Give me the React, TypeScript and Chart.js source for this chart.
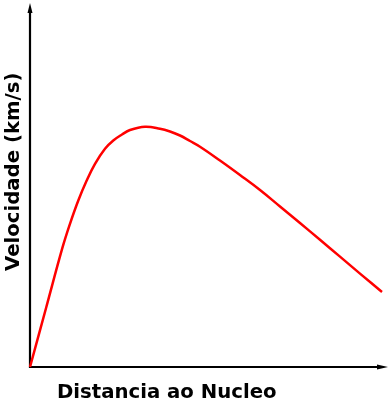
import React, { useEffect, useRef } from "react";
import { Chart, registerables } from "chart.js";

Chart.register(...registerables);

const distance = [0, 4.48, 9.05, 11.2, 13.53, 15.88, 18.21, 21.01, 23.33, 25.77, 28.01, 32.21, 36.41, 39.22, 42.02, 44.82, 47.62, 53.22, 58.82, 64.43, 70.03, 75.63, 81.23, 86.83, 92.44, 98.6];
const velocity = [0, 16.22, 32.82, 39.56, 46.0, 51.52, 56.13, 60.28, 62.57, 64.23, 65.47, 66.38, 65.83, 65.06, 63.95, 62.43, 60.86, 57.04, 53.04, 48.9, 44.34, 39.78, 35.14, 30.5, 25.8, 20.72];

const xTitle = "Distancia ao Nucleo";
const yTitle = "Velocidade (km/s)";

const axesPlugin = {
  id: "arrowAxes",
  beforeDatasetsDraw(chart: any) {
    const { ctx, chartArea } = chart;
    const { left, right, top, bottom } = chartArea;
    ctx.save();
    ctx.strokeStyle = "#000";
    ctx.fillStyle = "#000";
    ctx.lineWidth = 2.2;
    // y axis
    ctx.beginPath();
    ctx.moveTo(left, bottom + 1);
    ctx.lineTo(left, top + 6);
    ctx.stroke();
    ctx.beginPath();
    ctx.moveTo(left, top - 2);
    ctx.lineTo(left - 2.5, top + 8);
    ctx.lineTo(left + 2.5, top + 8);
    ctx.closePath();
    ctx.fill();
    // x axis
    ctx.beginPath();
    ctx.moveTo(left - 1, bottom);
    ctx.lineTo(right - 6, bottom);
    ctx.stroke();
    ctx.beginPath();
    ctx.moveTo(right + 1, bottom);
    ctx.lineTo(right - 10, bottom - 2.5);
    ctx.lineTo(right - 10, bottom + 2.5);
    ctx.closePath();
    ctx.fill();
    // titles
    ctx.font = "bold 19.7px 'DejaVu Sans'";
    ctx.textAlign = "left";
    ctx.textBaseline = "alphabetic";
    ctx.fillText(xTitle, 57, 397.5);
    ctx.translate(18.5, 271);
    ctx.rotate(-Math.PI / 2);
    ctx.fillText(yTitle, 0, 0);
    ctx.restore();
  },
};

export default function App() {
  const ref = useRef<HTMLCanvasElement>(null);
  useEffect(() => {
    document.body.style.margin = "0";
    const chart = new Chart(ref.current!, {
      type: "line",
      data: {
        datasets: [
          {
            data: distance.map((d, i) => ({ x: d, y: velocity[i] })),
            borderColor: "#ff0000",
            borderWidth: 2.5,
            pointRadius: 0,
            tension: 0.4,
            fill: false,
            clip: false as any,
          },
        ],
      },
      options: {
        animation: false,
        responsive: false,
        layout: { padding: { left: 30, right: 4, top: 5, bottom: 33 } },
        plugins: { legend: { display: false }, tooltip: { enabled: false } },
        scales: {
          x: { type: "linear", min: 0, max: 100, display: false },
          y: { type: "linear", min: 0, max: 100, display: false },
        },
      },
      plugins: [axesPlugin],
    });
    return () => chart.destroy();
  }, []);
  return (
    <div style={{ position: "absolute", left: 0, top: 0, width: 391, height: 400, background: "#fff" }}>
      <canvas ref={ref} width={391} height={400} />
    </div>
  );
}
